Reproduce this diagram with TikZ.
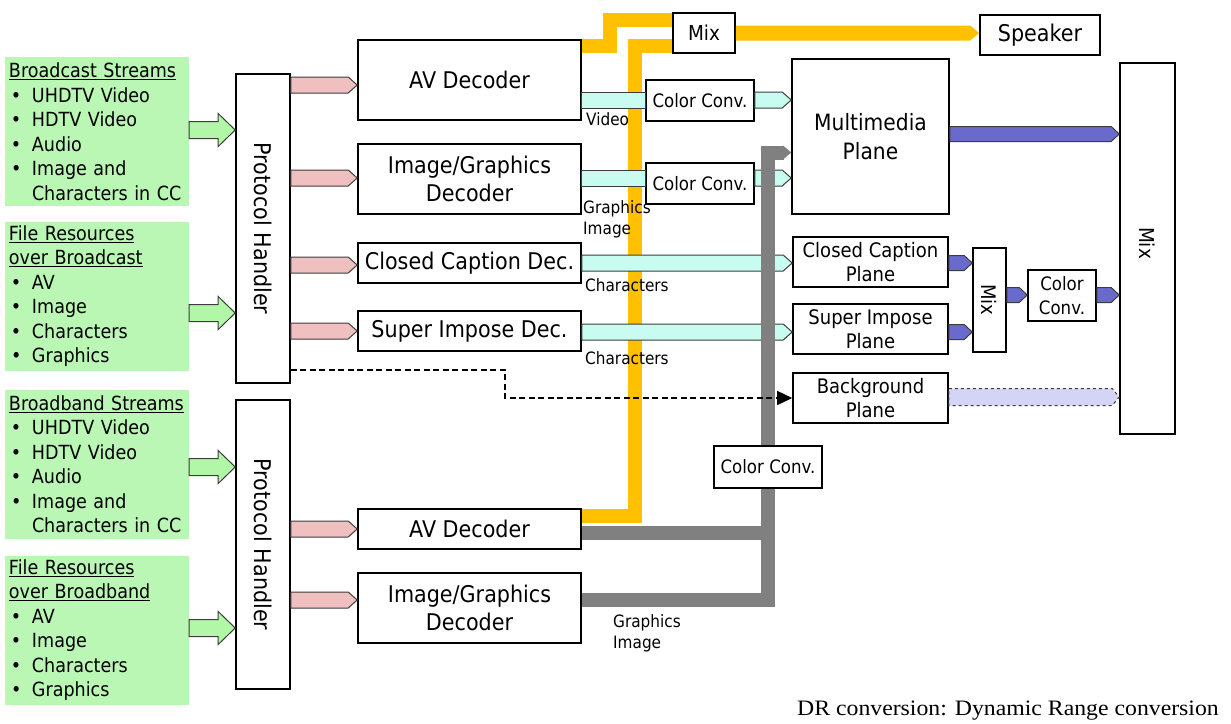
\documentclass[tikz,border=0pt]{standalone}
\usepackage{fontspec}
\setmainfont{DejaVu Sans}[FakeStretch=0.9]
\newfontfamily\notefont{Liberation Serif}[FakeStretch=1.08]
\usetikzlibrary{calc,arrows.meta}
\definecolor{boxgreen}{RGB}{187,247,180}
\definecolor{arrgreen}{RGB}{178,246,168}
\definecolor{pinkarr}{RGB}{240,192,192}
\definecolor{cyanarr}{RGB}{200,252,240}
\definecolor{purparr}{RGB}{106,106,204}
\definecolor{lavarr}{RGB}{212,212,244}
\definecolor{yel}{RGB}{255,192,0}
\definecolor{gry}{RGB}{128,128,128}
\definecolor{edge}{RGB}{60,60,60}
% #1 style, #2 start anchor, #3 end anchor, #4 y, #5 band half, #6 head half, #7 head length
\newcommand\fatarrow[7]{%
  \path[#1] let \p1=(#2), \p2=(#3), \p3=(0,#4) in
    (\x1,\y3+#5pt) -- (\x2-#7pt,\y3+#5pt) -- (\x2-#7pt,\y3+#6pt) -- (\x2,\y3)
    -- (\x2-#7pt,\y3-#6pt) -- (\x2-#7pt,\y3-#5pt) -- (\x1,\y3-#5pt) -- cycle;}
\newcommand\bul{\makebox[23pt][l]{\hspace{2pt}\textbullet}}
\begin{document}
\begin{tikzpicture}[x=1pt,y=-1pt,
  box/.style={draw=black, line width=1.6pt, fill=white, inner sep=0pt, align=center},
  gbox/.style={fill=boxgreen, inner sep=0pt, minimum width=184pt, minimum height=149pt,
    text width=176pt, align=left, font=\fontsize{19.5}{24.5}\selectfont},
  dec/.style={box, minimum width=223pt, font=\fontsize{23}{28}\selectfont},
  plane/.style={box, minimum width=155pt, minimum height=50pt, font=\fontsize{20}{24}\selectfont},
  ccv/.style={box, minimum width=108pt, minimum height=41pt, font=\fontsize{18.5}{22}\selectfont},
  lbl/.style={inner sep=0pt, align=left, font=\fontsize{17}{21}\selectfont},
  garr/.style={draw=edge, line width=1pt, fill=arrgreen},
  parr/.style={draw=edge, line width=1pt, fill=pinkarr},
  carr/.style={draw=edge, line width=1pt, fill=cyanarr},
  uarr/.style={draw=edge, line width=1pt, fill=purparr},
  larr/.style={draw=edge, line width=1pt, fill=lavarr, dashed},
  yline/.style={draw=yel, line width=14pt, line join=miter},
  gline/.style={draw=gry, line width=14pt, line join=miter},
]
\useasboundingbox (0,0) rectangle (1231,723);

% input boxes
\node[gbox] (g1) at (97,131.5) {\underline{Broadcast Streams}\\\bul UHDTV Video\\\bul HDTV Video\\\bul Audio\\\bul Image and\\\hspace*{23pt}Characters in CC};
\node[gbox] (g2) at (97,296) {\underline{File Resources}\\\underline{over Broadcast}\\\bul AV\\\bul Image\\\bul Characters\\\bul Graphics};
\node[gbox] (g3) at (97,464) {\underline{Broadband Streams}\\\bul UHDTV Video\\\bul HDTV Video\\\bul Audio\\\bul Image and\\\hspace*{23pt}Characters in CC};
\node[gbox] (g4) at (97,630) {\underline{File Resources}\\\underline{over Broadband}\\\bul AV\\\bul Image\\\bul Characters\\\bul Graphics};

% protocol handlers
\node[box, minimum width=54pt, minimum height=309pt] (ph1) at (263,228.5) {};
\node[rotate=-90, inner sep=0pt, font=\fontsize{23}{28}\selectfont] (ph1t) at (ph1.center) {Protocol Handler};
\node[box, minimum width=54pt, minimum height=289pt] (ph2) at (263,544.5) {};
\node[rotate=-90, inner sep=0pt, font=\fontsize{23}{28}\selectfont] (ph2t) at (ph2.center) {Protocol Handler};

% decoders
\node[dec, minimum height=80pt] (avd1) at (469.5,80) {AV Decoder};
\node[dec, minimum height=70pt] (igd1) at (469.5,179) {Image/Graphics\\Decoder};
\node[dec, minimum height=40pt] (ccd) at (469.5,263) {Closed Caption Dec.};
\node[dec, minimum height=40pt] (sid) at (469.5,331) {Super Impose Dec.};
\node[dec, minimum height=40pt] (avd2) at (469.5,529) {AV Decoder};
\node[dec, minimum height=70pt] (igd2) at (469.5,608) {Image/Graphics\\Decoder};

% right side
\node[box, minimum width=62pt, minimum height=40pt, font=\fontsize{20.5}{24}\selectfont] (mixt) at (704,33) {Mix};
\node[box, minimum width=120pt, minimum height=40pt, font=\fontsize{23}{28}\selectfont] (spk) at (1040,35) {Speaker};
\node[ccv] (cc1) at (700,100.5) {Color Conv.};
\node[ccv] (cc2) at (700,183.5) {Color Conv.};
\node[box, minimum width=157pt, minimum height=155pt, font=\fontsize{22.5}{29}\selectfont] (mmp) at (870.5,136.5) {Multimedia\\Plane};
\node[plane] (ccp) at (870.5,262) {Closed Caption\\Plane};
\node[plane] (sip) at (870.5,329) {Super Impose\\Plane};
\node[plane] (bgp) at (870.5,398) {Background\\Plane};
\node[box, minimum width=33pt, minimum height=104pt] (mixs) at (989.5,300) {};
\node[rotate=-90, inner sep=0pt, font=\fontsize{20}{24}\selectfont] (mixst) at (mixs.center) {Mix};
\node[box, minimum width=68pt, minimum height=51pt, font=\fontsize{18.5}{24}\selectfont] (ccs) at (1062,295.5) {Color\\Conv.};
\node[box, minimum width=55pt, minimum height=371pt] (mixb) at (1147.5,248.5) {};
\node[rotate=-90, inner sep=0pt, font=\fontsize{20.5}{24}\selectfont] (mixbt) at (1147.5,243) {Mix};
\node[ccv, minimum height=42pt] (ccb) at (768,467) {Color Conv.};

% green input arrows
\fatarrow{garr}{g1.east}{ph1.west}{130}{8.5}{16.5}{17}
\fatarrow{garr}{g2.east}{ph1.west}{313}{8.5}{16.5}{17}
\fatarrow{garr}{g3.east}{ph2.west}{467}{8.5}{16.5}{17}
\fatarrow{garr}{g4.east}{ph2.west}{628}{8.5}{16.5}{17}

% pink arrows
\fatarrow{parr}{ph1.east}{avd1.west}{85}{8}{8}{9}
\fatarrow{parr}{ph1.east}{igd1.west}{178}{8}{8}{9}
\fatarrow{parr}{ph1.east}{ccd.west}{265}{8}{8}{9}
\fatarrow{parr}{ph1.east}{sid.west}{331}{8}{8}{9}
\fatarrow{parr}{ph2.east}{avd2.west}{529}{8}{8}{9}
\fatarrow{parr}{ph2.east}{igd2.west}{600}{8}{8}{9}

% yellow audio paths
\draw[yline] (avd1.east |- 0,46) -- (609.5,46) -- (609.5,20) -- (mixt.west |- 0,20);
\draw[yline] (mixt.west |- 0,46) -- (635,46) -- (635,515.5) -- (avd2.east |- 0,515.5);
\fatarrow{draw=none, fill=yel}{mixt.east}{spk.west}{33}{7.5}{7.5}{9}

% cyan arrows
\fatarrow{carr}{avd1.east}{cc1.west}{100}{8}{8}{0}
\fatarrow{carr}{cc1.east}{mmp.west}{100}{8}{8}{9}
\fatarrow{carr}{igd1.east}{cc2.west}{178}{8}{8}{0}
\fatarrow{carr}{cc2.east}{mmp.west}{178}{8}{8}{9}
\fatarrow{carr}{ccd.east}{ccp.west}{263}{8}{8}{9}
\fatarrow{carr}{sid.east}{sip.west}{332}{8}{8}{9}

% gray paths
\draw[gline] (avd2.east |- 0,532.5) -- (767.5,532.5);
\draw[gline] (igd2.east |- 0,600) -- (767.5,600) -- (ccb.south -| 767.5,0);
\draw[gline] (ccb.north -| 767.5,0) -- (767.5,152.5) -- (784,152.5);
\fill[gry] (783,145.5) -- (mmp.west |- 0,152.5) -- (783,159.5) -- cycle;

% purple arrows
\fatarrow{uarr}{mmp.east}{mixb.west}{134}{7.5}{7.5}{8}
\fatarrow{uarr}{ccp.east}{mixs.west}{263}{7.5}{7.5}{8}
\fatarrow{uarr}{sip.east}{mixs.west}{332}{7.5}{7.5}{8}
\fatarrow{uarr}{mixs.east}{ccs.west}{295}{7.5}{7.5}{8}
\fatarrow{uarr}{ccs.east}{mixb.west}{295}{7.5}{7.5}{8}
\fatarrow{larr}{bgp.east}{mixb.west}{397}{8.5}{8.5}{7}

% dashed control path
\draw[line width=1.5pt, dash pattern=on 6pt off 3.5pt, -{Triangle[length=15pt,width=14pt]}]
  (ph1.east |- 0,370) -- (505,370) -- (505,398) -- (bgp.west);

% labels
\node[lbl, anchor=west] (lvid) at (586,119) {Video};
\node[lbl, anchor=west] (lgi1) at (583,219) {Graphics\\Image};
\node[lbl, anchor=west] (lch1) at (585,285) {Characters};
\node[lbl, anchor=west] (lch2) at (585,358) {Characters};
\node[lbl, anchor=west] (lgi2) at (613,633) {Graphics\\Image};

\node[inner sep=0pt, anchor=east, font=\notefont\fontsize{22}{26}\selectfont] (note) at (1219,711) {DR conversion: Dynamic Range conversion};
\end{tikzpicture}
\end{document}
